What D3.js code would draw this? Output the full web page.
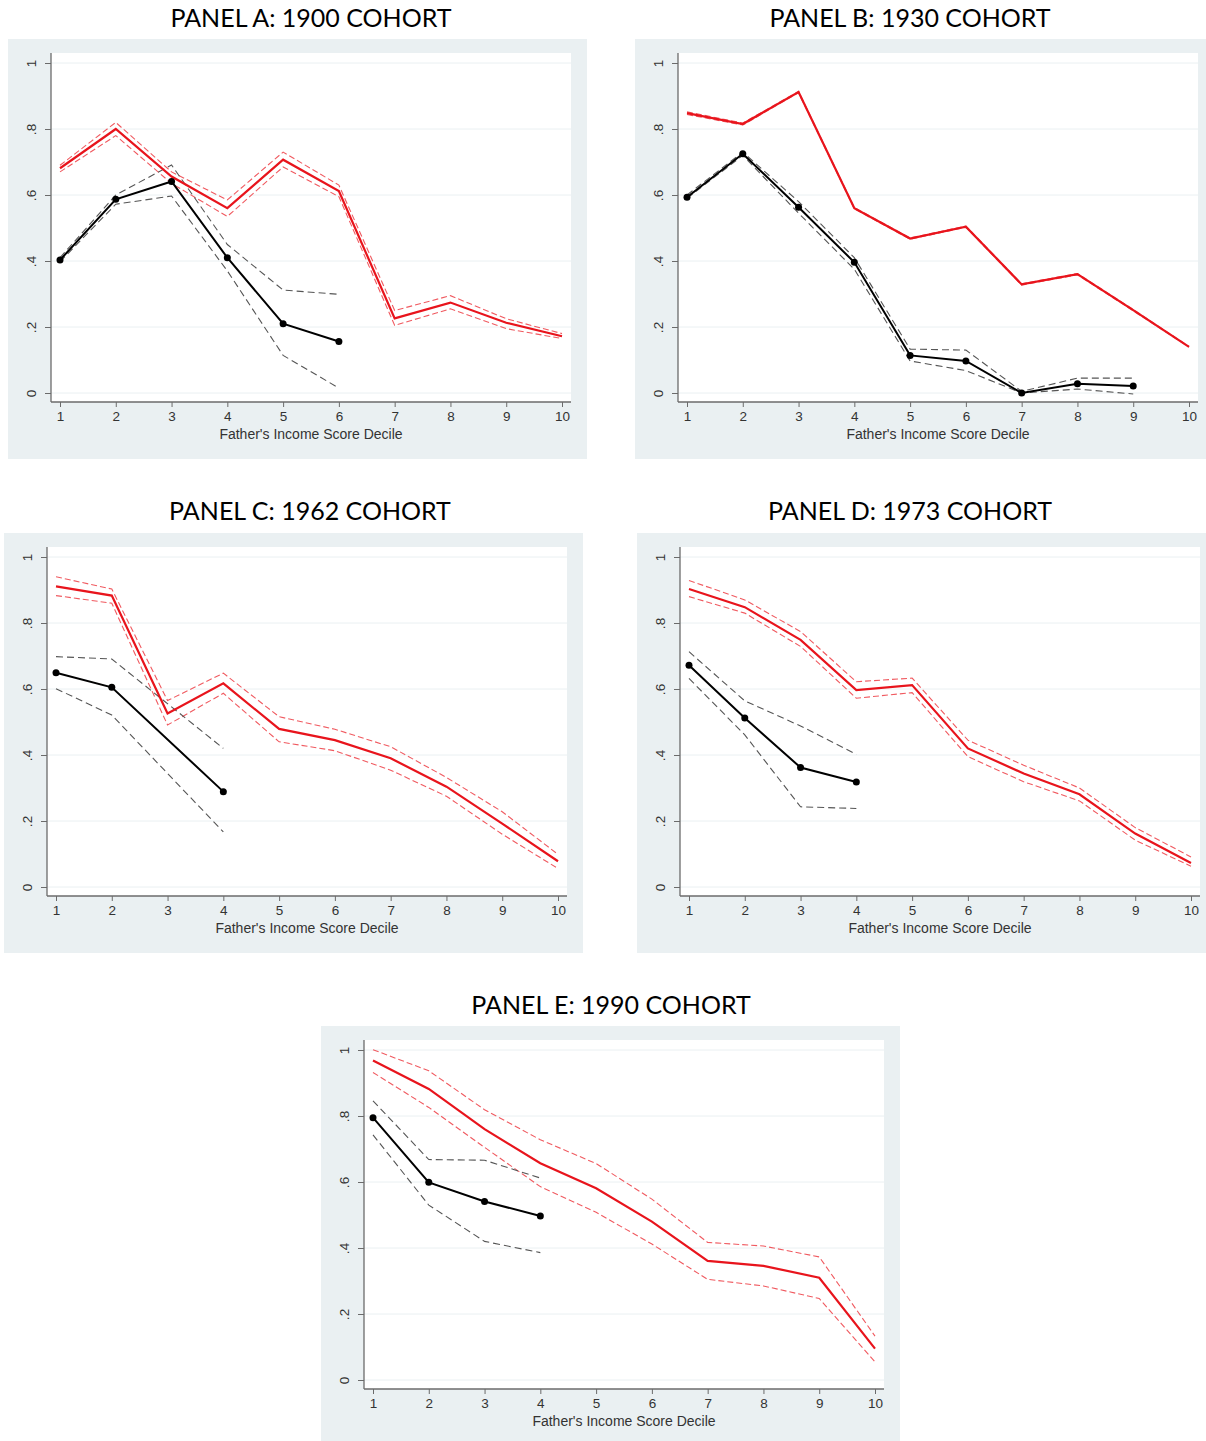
<!DOCTYPE html>
<meta charset="utf-8">
<style type="text/css">
    body { margin: 0; background: #fff; }
    .bg { fill: #eaf0f2; }
    .plotArea { fill: #fff; }
    .grid { stroke: #eaf0f2; stroke-width: 1; }
    .axisLine { stroke: #6b6b6b; stroke-width: 1.3; }
    .tick line { stroke: #6b6b6b; stroke-width: 1; }
    .tick text, .tickLab { font-family: "Liberation Sans", Arial, sans-serif; font-size: 13.5px; fill: #333; }
    .xtitle { font-family: "Liberation Sans", Arial, sans-serif; font-size: 14px; fill: #333; }
    .title { font-family: Lato, "Open Sans", sans-serif; font-size: 25px; fill: #000; }
    .red { fill: none; stroke: #e8141c; stroke-width: 2.2; }
    .redCI { fill: none; stroke: #f05a60; stroke-width: 1.1; stroke-dasharray: 6 3; }
    .black { fill: none; stroke: #000; stroke-width: 2; }
    .blackCI { fill: none; stroke: #555; stroke-width: 1.1; stroke-dasharray: 7 4; }
    .dot { fill: #000; }
</style>
<body>
</body>
<script src="https://d3js.org/d3.v7.min.js"></script>
<script>

    // x = father's income score decile
    var deciles = [1, 2, 3, 4, 5, 6, 7, 8, 9, 10];
    var yTicks = [0, 0.2, 0.4, 0.6, 0.8, 1];
    var yTickLabels = ["0", ".2", ".4", ".6", ".8", "1"];
    var xTitle = "Father's Income Score Decile";

    var titles = ["PANEL A: 1900 COHORT", "PANEL B: 1930 COHORT", "PANEL C: 1962 COHORT",
                  "PANEL D: 1973 COHORT", "PANEL E: 1990 COHORT"];

    // Panel A: 1900
    var redA     = [0.681, 0.800, 0.656, 0.560, 0.707, 0.612, 0.226, 0.274, 0.213, 0.172];
    var redHiA   = [0.690, 0.820, 0.670, 0.585, 0.730, 0.630, 0.250, 0.295, 0.225, 0.180];
    var redLoA   = [0.670, 0.780, 0.635, 0.535, 0.685, 0.595, 0.205, 0.255, 0.195, 0.165];
    var blackA   = [0.403, 0.587, 0.641, 0.410, 0.210, 0.156, null, null, null, null];
    var blackHiA = [0.410, 0.600, 0.691, 0.450, 0.312, 0.299, null, null, null, null];
    var blackLoA = [0.398, 0.572, 0.597, 0.370, 0.114, 0.015, null, null, null, null];

    // Panel B: 1930
    var redB     = [0.848, 0.815, 0.912, 0.560, 0.468, 0.504, 0.329, 0.360, 0.251, 0.140];
    var redHiB   = [0.852, 0.818, 0.914, 0.562, 0.470, 0.506, 0.331, 0.362, 0.253, 0.141];
    var redLoB   = [0.844, 0.812, 0.910, 0.558, 0.466, 0.502, 0.327, 0.358, 0.249, 0.139];
    var blackB   = [0.593, 0.725, 0.563, 0.396, 0.114, 0.097, 0.000, 0.028, 0.021, null];
    var blackHiB = [0.600, 0.730, 0.580, 0.410, 0.133, 0.130, 0.005, 0.045, 0.045, null];
    var blackLoB = [0.590, 0.720, 0.545, 0.375, 0.097, 0.068, 0.000, 0.012, -0.003, null];

    // Panel C: 1962 (no estimate at decile 3 for the black series)
    var redC     = [0.911, 0.883, 0.526, 0.617, 0.479, 0.445, 0.390, 0.304, 0.192, 0.078];
    var redHiC   = [0.940, 0.903, 0.565, 0.648, 0.516, 0.478, 0.425, 0.332, 0.228, 0.099];
    var redLoC   = [0.883, 0.860, 0.491, 0.587, 0.440, 0.413, 0.354, 0.275, 0.160, 0.056];
    var blackC   = [0.649, 0.605, null, 0.289, null, null, null, null, null, null];
    var blackHiC = [0.698, 0.691, null, 0.420, null, null, null, null, null, null];
    var blackLoC = [0.601, 0.521, null, 0.167, null, null, null, null, null, null];

    // Panel D: 1973
    var redD     = [0.903, 0.848, 0.749, 0.597, 0.612, 0.420, 0.344, 0.281, 0.162, 0.073];
    var redHiD   = [0.929, 0.870, 0.774, 0.622, 0.633, 0.445, 0.369, 0.300, 0.180, 0.091];
    var redLoD   = [0.880, 0.830, 0.729, 0.572, 0.589, 0.395, 0.319, 0.261, 0.142, 0.063];
    var blackD   = [0.672, 0.512, 0.362, 0.318, null, null, null, null, null, null];
    var blackHiD = [0.713, 0.564, 0.488, 0.402, null, null, null, null, null, null];
    var blackLoD = [0.632, 0.461, 0.243, 0.238, null, null, null, null, null, null];

    // Panel E: 1990
    var redE     = [0.968, 0.882, 0.760, 0.657, 0.581, 0.480, 0.361, 0.346, 0.310, 0.095];
    var redHiE   = [1.001, 0.937, 0.819, 0.728, 0.656, 0.548, 0.417, 0.406, 0.373, 0.133];
    var redLoE   = [0.932, 0.826, 0.705, 0.586, 0.508, 0.412, 0.305, 0.285, 0.247, 0.055];
    var blackE   = [0.795, 0.599, 0.541, 0.497, null, null, null, null, null, null];
    var blackHiE = [0.846, 0.668, 0.666, 0.612, null, null, null, null, null, null];
    var blackLoE = [0.743, 0.530, 0.420, 0.386, null, null, null, null, null, null];

    var seriesByPanel = [
        [redA, redHiA, redLoA, blackA, blackHiA, blackLoA],
        [redB, redHiB, redLoB, blackB, blackHiB, blackLoB],
        [redC, redHiC, redLoC, blackC, blackHiC, blackLoC],
        [redD, redHiD, redLoD, blackD, blackHiD, blackLoD],
        [redE, redHiE, redLoE, blackE, blackHiE, blackLoE]
    ];

    // where each panel sits on the page, and where its title goes
    var layout = [
        {x: 8,   y: 39,   tx: 311, ty: 27},
        {x: 635, y: 39,   tx: 910, ty: 27},
        {x: 4,   y: 533,  tx: 310, ty: 520},
        {x: 637, y: 533,  tx: 910, ty: 520},
        {x: 321, y: 1026, tx: 611, ty: 1014}
    ];

    var panelW = 579, panelH = 420;
    var plot = {left: 43, right: 563, top: 14, bottom: 363};

    var xScale = d3.scaleLinear().domain([1, 10]).range([52, 554]);
    var yScale = d3.scaleLinear().domain([0, 1]).range([354, 24]);

    var line = d3.line()
        .defined(function(d) { return d.y != null; })
        .x(function(d) { return xScale(d.x); })
        .y(function(d) { return yScale(d.y); });

    function toPoints(values) {
        // keep only real estimates so the line joins over gaps like Stata does
        return deciles.map(function(x, i) { return {x: x, y: values[i]}; })
            .filter(function(d) { return d.y != null; });
    }

    var svg = d3.select("body").append("svg")
        .attr("width", 1206)
        .attr("height", 1441);

    svg.selectAll(".title")
        .data(titles)
        .enter().append("text")
        .attr("class", "title")
        .attr("x", function(d, i) { return layout[i].tx; })
        .attr("y", function(d, i) { return layout[i].ty; })
        .attr("text-anchor", "middle")
        .text(function(d) { return d; });

    seriesByPanel.forEach(function(s, p) {
        var g = svg.append("g")
            .attr("transform", "translate(" + layout[p].x + "," + layout[p].y + ")");

        g.append("rect").attr("class", "bg")
            .attr("width", panelW).attr("height", panelH);

        g.append("rect").attr("class", "plotArea")
            .attr("x", plot.left).attr("y", plot.top)
            .attr("width", plot.right - plot.left).attr("height", plot.bottom - plot.top);

        // horizontal grid
        g.selectAll(".grid")
            .data(yTicks)
            .enter().append("line")
            .attr("class", "grid")
            .attr("x1", plot.left).attr("x2", plot.right)
            .attr("y1", function(d) { return yScale(d); })
            .attr("y2", function(d) { return yScale(d); });

        // y axis, labels turned sideways
        var yAxis = g.append("g")
            .attr("transform", "translate(" + plot.left + ",0)")
            .call(d3.axisLeft(yScale).tickValues(yTicks).tickSize(6)
                .tickFormat(function(d, i) { return yTickLabels[i]; }));
        yAxis.select(".domain").remove();
        yAxis.selectAll(".tick text")
            .attr("x", null).attr("dy", null)
            .attr("transform", "translate(-15,0) rotate(-90)")
            .attr("text-anchor", "middle")
            .attr("y", 0);

        // x axis
        var xAxis = g.append("g")
            .attr("transform", "translate(0," + plot.bottom + ")")
            .call(d3.axisBottom(xScale).tickValues(deciles).tickSize(5).tickPadding(4));
        xAxis.select(".domain").remove();

        g.append("line").attr("class", "axisLine")
            .attr("x1", plot.left).attr("x2", plot.left)
            .attr("y1", plot.top).attr("y2", plot.bottom);
        g.append("line").attr("class", "axisLine")
            .attr("x1", plot.left).attr("x2", plot.right)
            .attr("y1", plot.bottom).attr("y2", plot.bottom);

        g.append("text")
            .attr("class", "xtitle")
            .attr("x", (xScale(1) + xScale(10)) / 2)
            .attr("y", 400)
            .attr("text-anchor", "middle")
            .text(xTitle);

        // confidence bands first, then the estimates
        g.append("path").datum(toPoints(s[1])).attr("class", "redCI").attr("d", line);
        g.append("path").datum(toPoints(s[2])).attr("class", "redCI").attr("d", line);
        g.append("path").datum(toPoints(s[4])).attr("class", "blackCI").attr("d", line);
        g.append("path").datum(toPoints(s[5])).attr("class", "blackCI").attr("d", line);
        g.append("path").datum(toPoints(s[0])).attr("class", "red").attr("d", line);
        g.append("path").datum(toPoints(s[3])).attr("class", "black").attr("d", line);

        g.selectAll(".dot")
            .data(toPoints(s[3]))
            .enter().append("circle")
            .attr("class", "dot")
            .attr("cx", function(d) { return xScale(d.x); })
            .attr("cy", function(d) { return yScale(d.y); })
            .attr("r", 3.5);
    });

</script>
